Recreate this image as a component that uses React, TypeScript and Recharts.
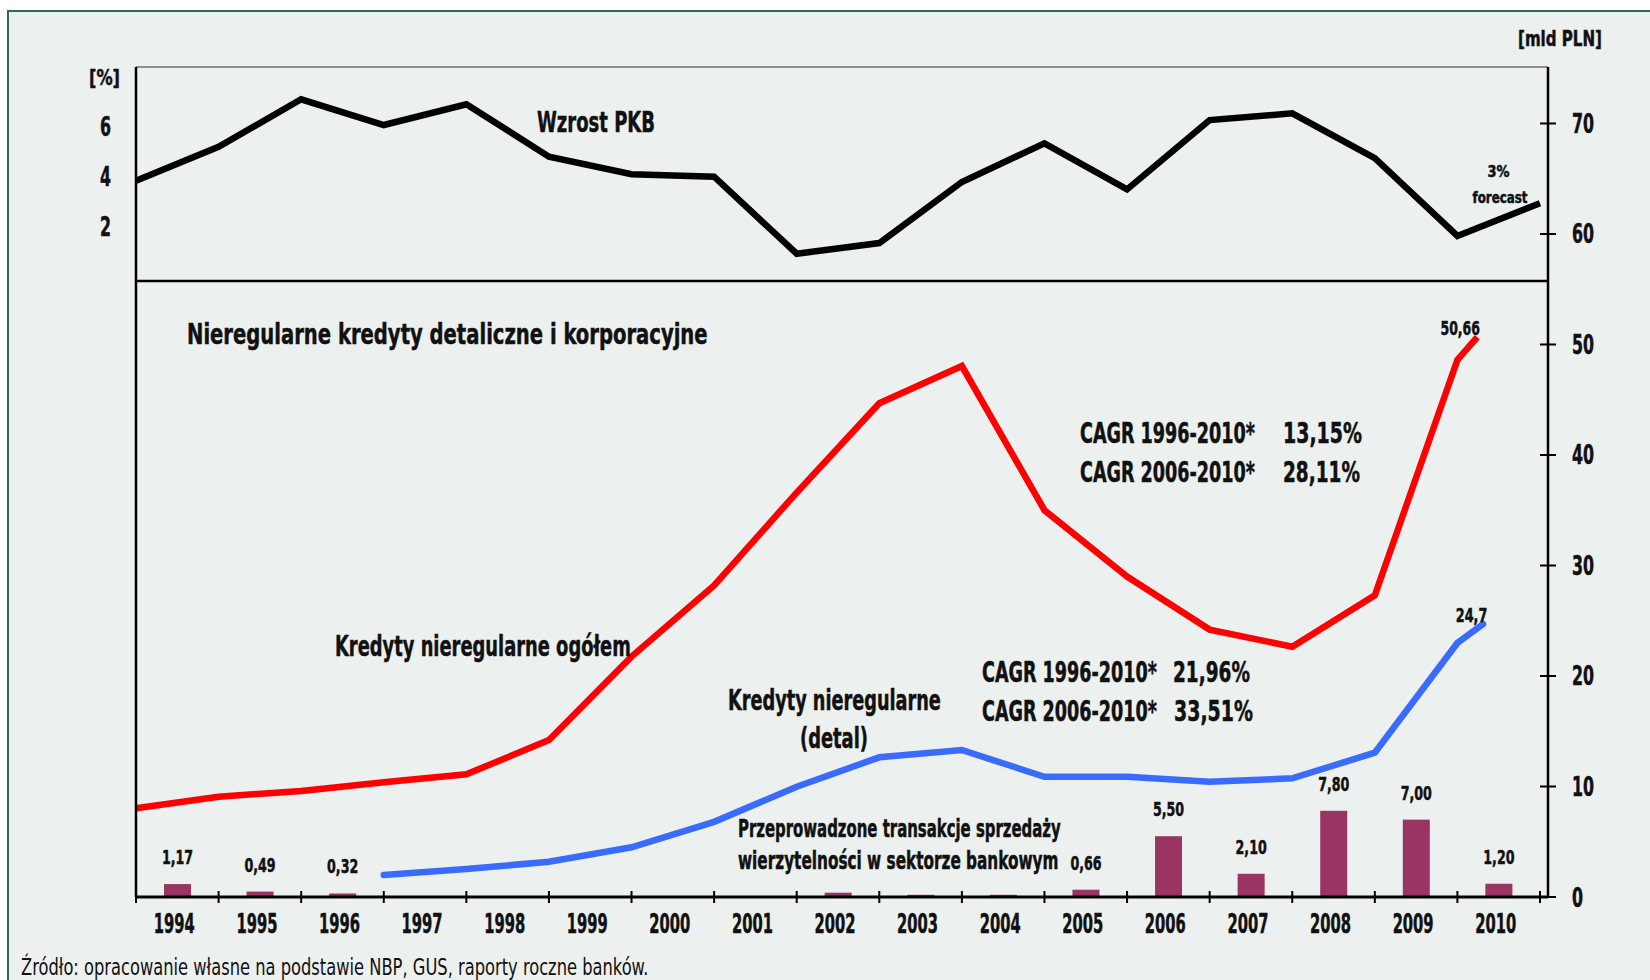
import React from 'react';
import {
  ComposedChart,
  Bar,
  Line,
  XAxis,
  YAxis,
  ReferenceLine,
  LabelList,
} from 'recharts';

// years under the bars (one band each)
const saleYears = ['1994', '1995', '1996', '1997', '1998', '1999', '2000', '2001', '2002',
  '2003', '2004', '2005', '2006', '2007', '2008', '2009', '2010'];

// PKB growth [%], one point per band edge (0..17)
const pkbGrowth = [3.83, 5.2, 7.12, 6.08, 6.92, 4.8, 4.09, 3.99, 0.88, 1.31, 3.78, 5.34, 3.48,
  6.28, 6.55, 4.74, 1.6, 2.92];

// non-performing loans total [mld PLN]
const totalPos = [0, 1, 2, 3, 4, 5, 6, 7, 8, 9, 10, 11, 12, 13, 14, 15, 16, 16.24];
const totalNpl = [8.03, 9.08, 9.59, 10.38, 11.1, 14.2, 21.75, 28.2, 36.6, 44.68, 48.05, 35.0,
  29.0, 24.2, 22.65, 27.3, 48.6, 50.66];

// non-performing loans, retail [mld PLN]
const retailPos = [3, 4, 5, 6, 7, 8, 9, 10, 11, 12, 13, 14, 15, 16, 16.31];
const retailNpl = [1.99, 2.53, 3.19, 4.5, 6.8, 9.98, 12.64, 13.3, 10.88, 10.88, 10.43, 10.74,
  13.06, 22.99, 24.7];

// debt sale transactions [mld PLN]
const saleValues = [1.17, 0.49, 0.32, null, null, null, null, null, 0.39, 0.2, 0.2, 0.66, 5.5,
  2.1, 7.8, 7.0, 1.2];
const saleLabels = ['1,17', '0,49', '0,32', '', '', '', '', '', '', '', '', '0,66', '5,50',
  '2,10', '7,80', '7,00', '1,20'];

const pctTicks = [2, 4, 6];
const plnTicks = [0, 10, 20, 30, 40, 50, 60, 70];
const PLN_TOP = 75.11;
const PANEL_SPLIT = 55.75; // line between the two panels, in mld PLN
const PCT_DOMAIN: [number, number] = [-25.11, 8.424];

const FONT = "'Liberation Sans Narrow', 'DejaVu Sans Condensed', 'Liberation Sans', Arial, sans-serif";
const INK = '#111111';
const BAR_COLOR = '#9A3462';

type Row = {
  x: number;
  pkb?: number;
  total?: number;
  retail?: number;
  sale?: number;
  saleLabel?: string;
  endLabel?: string;
  retailEnd?: string;
};

const rows = new Map<number, Row>();
const row = (x: number) => {
  if (!rows.has(x)) rows.set(x, { x });
  return rows.get(x)!;
};
pkbGrowth.forEach((v, i) => { row(i).pkb = v; });
totalNpl.forEach((v, i) => { row(totalPos[i]).total = v; });
retailNpl.forEach((v, i) => { row(retailPos[i]).retail = v; });
saleValues.forEach((v, i) => {
  if (v == null) return;
  const r = row(i + 0.5);
  r.sale = v;
  r.saleLabel = saleLabels[i];
});
row(totalPos[totalPos.length - 1]).endLabel = '50,66';
row(retailPos[retailPos.length - 1]).retailEnd = '24,7';
const data = [...rows.values()].sort((a, b) => a.x - b.x);

const xTicks: number[] = [];
for (let i = 0; i <= 17; i++) {
  xTicks.push(i);
  if (i < 17) xTicks.push(i + 0.5);
}

// measure natural text width so the condensed look can be made with a scale
let ctx: CanvasRenderingContext2D | null = null;
const measure = (s: string, size: number, weight: number) => {
  if (!ctx && typeof document !== 'undefined') ctx = document.createElement('canvas').getContext('2d');
  if (!ctx) return 0;
  ctx.font = `${weight} ${size}px ${FONT}`;
  return ctx.measureText(s).width;
};

const CText = ({ x, y, w, size, anchor = 'start', weight = 700, children }: any) => {
  const s = String(children);
  const natural = measure(s, size, weight);
  const sx = natural > 0 ? w / natural : 1;
  return (
    <text
      transform={`translate(${x} ${y}) scale(${sx} 1)`}
      fontFamily={FONT}
      fontSize={size}
      fontWeight={weight}
      textAnchor={anchor}
      fill={INK}
      stroke={weight > 400 ? INK : 'none'}
      strokeWidth={weight > 400 ? 0.5 : 0}
    >
      {s}
    </text>
  );
};

const XTick = (p: any) => {
  const v = p.payload.value;
  if (Number.isInteger(v)) {
    return <line x1={p.x} x2={p.x} y1={p.y - 6} y2={p.y + 6} stroke="#000" strokeWidth={2} />;
  }
  return (
    <CText x={p.x - 3} y={p.y + 35.5} w={41} size={26} anchor="middle">
      {saleYears[Math.floor(v)]}
    </CText>
  );
};

const LeftTick = (p: any) => (
  <CText x={p.x - 25} y={p.y + 9.5} w={11} size={26} anchor="end">
    {p.payload.value}
  </CText>
);

const RightTick = (p: any) => {
  const s = String(p.payload.value);
  return (
    <g>
      <line x1={p.x - 8} x2={p.x + 8} y1={p.y} y2={p.y} stroke="#000" strokeWidth={2} />
      <CText x={p.x + 24} y={p.y + 9.5} w={11 * s.length} size={26}>
        {s}
      </CText>
    </g>
  );
};

// fixed-width bar centred on its position
const SaleBar = (p: any) => {
  if (!p.height || p.height <= 0) return null;
  const cx = p.x + p.width / 2;
  return <rect x={cx - 13.5} y={p.y} width={27} height={p.height} fill={BAR_COLOR} />;
};

const BarLabel = (p: any) => {
  if (!p.value) return null;
  const s = String(p.value);
  return (
    <CText x={p.x + p.width / 2} y={p.y - 20} w={7.8 * s.length} size={20} anchor="middle">
      {s}
    </CText>
  );
};

const EndLabel = (dx: number) => (p: any) => {
  if (!p.value) return null;
  const s = String(p.value);
  return (
    <CText x={p.x + dx} y={p.y - 2} w={7.9 * s.length} size={20} anchor="middle">
      {s}
    </CText>
  );
};

export default function App() {
  return (
    <div style={{ position: 'absolute', left: 0, top: 0, width: 1650, height: 980, background: '#fff', overflow: 'hidden' }}>
      <div
        style={{
          position: 'absolute',
          left: 7,
          top: 10,
          width: 1660,
          height: 990,
          background: '#ECF0EF',
          border: '2px solid #2F6B55',
        }}
      />
      <div style={{ position: 'absolute', left: 0, top: 0 }}>
        <ComposedChart
          width={1650}
          height={980}
          data={data}
          margin={{ top: 67, right: 42, bottom: 43, left: 76 }}
        >
          <XAxis
            type="number"
            dataKey="x"
            domain={[0, 17]}
            ticks={xTicks}
            interval={0}
            allowDecimals
            tickSize={0}
            tickMargin={0}
            tickLine={false}
            axisLine={{ stroke: '#000', strokeWidth: 3 }}
            padding={{ left: 0, right: 8 }}
            height={40}
            tick={(p: any) => <XTick {...p} />}
          />
          <YAxis
            yAxisId="pct"
            orientation="left"
            domain={PCT_DOMAIN}
            ticks={pctTicks}
            allowDataOverflow
            width={60}
            tickSize={0}
            tickMargin={0}
            tickLine={false}
            axisLine={{ stroke: '#000', strokeWidth: 2.5 }}
            tick={(p: any) => <LeftTick {...p} />}
          />
          <YAxis
            yAxisId="pln"
            orientation="right"
            domain={[0, PLN_TOP]}
            ticks={plnTicks}
            allowDataOverflow
            width={60}
            tickSize={0}
            tickMargin={0}
            tickLine={false}
            axisLine={{ stroke: '#000', strokeWidth: 2.5 }}
            tick={(p: any) => <RightTick {...p} />}
          />
          <ReferenceLine yAxisId="pln" y={PLN_TOP} stroke="#8c8c8c" strokeWidth={2} />
          <ReferenceLine yAxisId="pln" y={PANEL_SPLIT} stroke="#000" strokeWidth={2.5} />
          <Bar
            yAxisId="pln"
            dataKey="sale"
            fill={BAR_COLOR}
            shape={(p: any) => <SaleBar {...p} />}
            isAnimationActive={false}
          >
            <LabelList dataKey="saleLabel" content={(p: any) => <BarLabel {...p} />} />
          </Bar>
          <Line
            yAxisId="pct"
            type="linear"
            dataKey="pkb"
            stroke="#000"
            strokeWidth={6.5}
            dot={false}
            activeDot={false}
            connectNulls
            isAnimationActive={false}
          />
          <Line
            yAxisId="pln"
            type="linear"
            dataKey="total"
            stroke="#FF0000"
            strokeWidth={6.5}
            dot={false}
            activeDot={false}
            connectNulls
            isAnimationActive={false}
          >
            <LabelList dataKey="endLabel" content={EndLabel(-17)} />
          </Line>
          <Line
            yAxisId="pln"
            type="linear"
            dataKey="retail"
            stroke="#3A6BFF"
            strokeWidth={6.5}
            strokeLinecap="round"
            dot={false}
            activeDot={false}
            connectNulls
            isAnimationActive={false}
          >
            <LabelList dataKey="retailEnd" content={EndLabel(-11.5)} />
          </Line>
        </ComposedChart>
      </div>
      <svg width={1650} height={980} style={{ position: 'absolute', left: 0, top: 0, pointerEvents: 'none' }}>
        <CText x={89} y={85} w={31} size={22}>[%]</CText>
        <CText x={1518} y={46} w={84} size={22}>[mld PLN]</CText>
        <CText x={537} y={131.5} w={118} size={29}>Wzrost PKB</CText>
        <CText x={1498.5} y={177} w={22} size={15} anchor="middle">3%</CText>
        <CText x={1500} y={203} w={55} size={16} anchor="middle">forecast</CText>
        <CText x={187} y={344} w={521} size={29}>Nieregularne kredyty detaliczne i korporacyjne</CText>
        <CText x={1080} y={443} w={175} size={28}>CAGR 1996-2010*</CText>
        <CText x={1283} y={443} w={79} size={28}>13,15%</CText>
        <CText x={1080} y={482} w={175} size={28}>CAGR 2006-2010*</CText>
        <CText x={1283} y={482} w={77} size={28}>28,11%</CText>
        <CText x={335} y={656} w={296} size={28}>Kredyty nieregularne ogółem</CText>
        <CText x={982} y={682} w={175} size={28}>CAGR 1996-2010*</CText>
        <CText x={1173} y={682} w={77} size={28}>21,96%</CText>
        <CText x={982} y={721} w={175} size={28}>CAGR 2006-2010*</CText>
        <CText x={1174} y={721} w={79} size={28}>33,51%</CText>
        <CText x={728} y={710} w={213} size={28}>Kredyty nieregularne</CText>
        <CText x={800} y={748} w={68} size={28}>(detal)</CText>
        <CText x={738} y={837} w={323} size={24}>Przeprowadzone transakcje sprzedaży</CText>
        <CText x={738} y={869} w={326} size={24}>wierzytelności  w sektorze bankowym</CText>
        <CText x={21} y={975} w={628} size={23} weight={400}>
          Źródło: opracowanie własne na podstawie NBP, GUS, raporty roczne banków.
        </CText>
      </svg>
    </div>
  );
}
